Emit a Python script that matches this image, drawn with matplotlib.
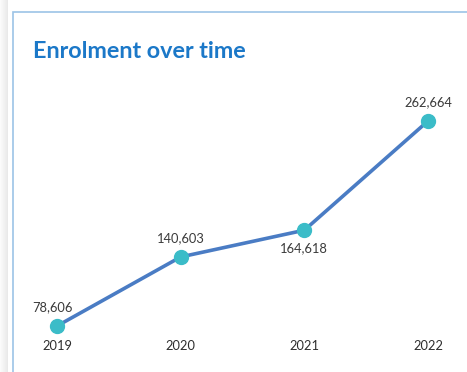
import matplotlib.pyplot as plt
from matplotlib.patches import Rectangle

# data
years = ['2019', '2020', '2021', '2022']
enrolment = [78606, 140603, 164618, 262664]
# label placement: above (1) or below (-1) the point
label_side = [1, 1, -1, 1]

W, H = 467, 372
fig = plt.figure(figsize=(W / 100, H / 100), dpi=100)
fig.patch.set_facecolor('white')

# left shadow of the card
for i in range(8):
    fig.patches.append(Rectangle((i / W, 0), 1 / W, 1, transform=fig.transFigure,
                                 facecolor=(0.5, 0.5, 0.5), alpha=0.03 + 0.02 * i,
                                 edgecolor='none', zorder=-2))
# card border
fig.patches.append(Rectangle((12.5 / W, -0.1), 1.2, 1 - 11.5 / H + 0.1,
                             transform=fig.transFigure, facecolor='white',
                             edgecolor='#9cc4e6', linewidth=1.2, zorder=-1))

fig.text(33 / W, 1 - 51 / H, 'Enrolment over time', fontsize=16.8,
         fontweight='bold', color='#1b78c8', family=['Lato', 'DejaVu Sans'],
         va='center', ha='left')

# axes positioned so the first/last points land where the reference has them
ax = fig.add_axes([57 / W, 46 / H, (428 - 57) / W, (251 - 46) / H])
ax.set_xlim(0, 3)
ax.set_ylim(min(enrolment), max(enrolment))
ax.axis('off')

x = list(range(len(years)))
ax.plot(x, enrolment, color='#4a7cc4', linewidth=2.6, solid_capstyle='round',
        zorder=2, clip_on=False)
ax.plot(x, enrolment, 'o', color='#3bbcc8', markersize=10, zorder=3, clip_on=False)

for i, v in enumerate(enrolment):
    dx = -4.5 if i == 0 else 0
    dy = 19 if label_side[i] > 0 else -17.5
    ax.annotate(f'{v:,}', (i, v), xytext=(dx * 0.72, dy * 0.72), textcoords='offset points',
                ha='center', va='center', fontsize=9.3, color='#3a3a3a',
                family=['Lato', 'DejaVu Sans'])
    ax.annotate(years[i], (i, min(enrolment)), xytext=(0, -20 * 0.72),
                textcoords='offset points', ha='center', va='center',
                fontsize=9.3, color='#2e2e2e', family=['Lato', 'DejaVu Sans'])

fig.savefig('out.png', dpi=100)
